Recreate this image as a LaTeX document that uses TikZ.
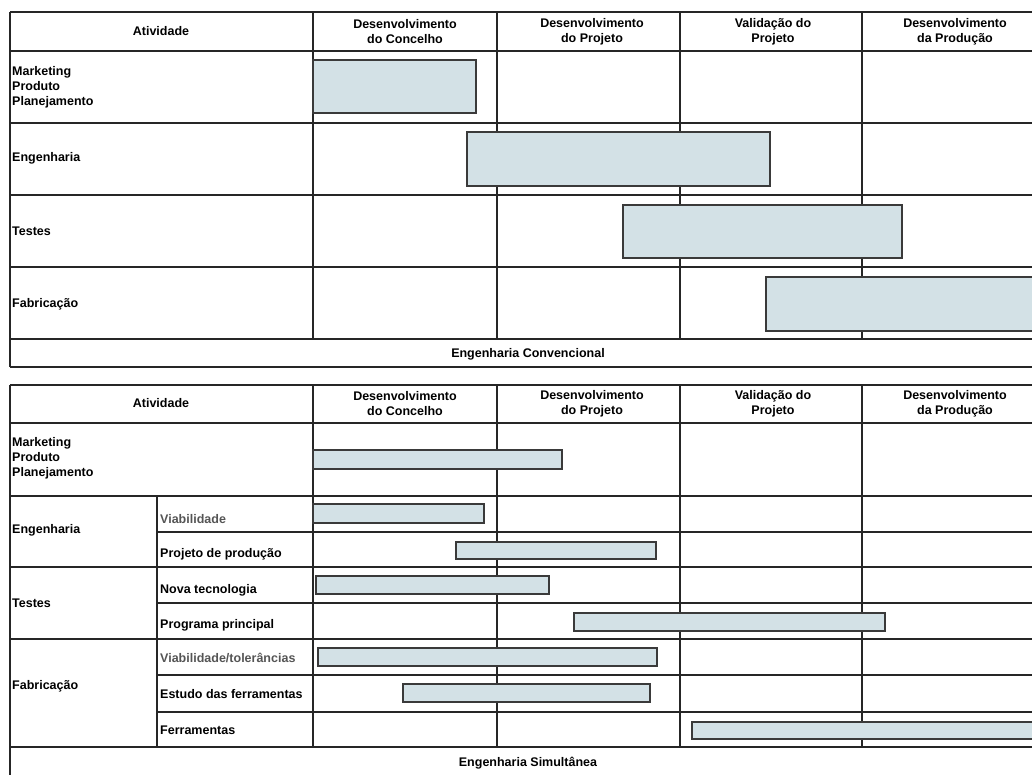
\documentclass[tikz,border=0pt]{standalone}
\usepackage{fontspec}
\setmainfont{Liberation Sans}
\definecolor{barfill}{HTML}{D3E1E6}
\definecolor{bardraw}{HTML}{3A3A3A}
\definecolor{lbgray}{HTML}{555555}
\begin{document}
\begin{tikzpicture}[x=1pt,y=-1pt,
  grid/.style={line width=1.4pt, black!85},
  bar/.style={fill=barfill, draw=bardraw, line width=1.5pt},
  lbl/.style={font=\bfseries\fontsize{12.5}{15}\selectfont, inner sep=0pt, anchor=west, align=left},
  hdr/.style={font=\bfseries\fontsize{12.5}{15}\selectfont, inner sep=0pt, align=center}]
\useasboundingbox (0,0) rectangle (1032,774);
\clip (0,0) rectangle (1032,774);
\fill[white] (0,0) rectangle (1032,774);

% ---------- top table grid ----------
\foreach \y in {12,51,123,195,267,339,367} \draw[grid] (10,\y) -- (1040,\y);
\draw[grid] (10,12) -- (10,367);
\foreach \x in {313,497,680,862} \draw[grid] (\x,12) -- (\x,339);

% top bars
\draw[bar] (313,60) rectangle (476,113);
\draw[bar] (467,132) rectangle (770,186);
\draw[bar] (623,205) rectangle (902,258);
\draw[bar] (766,277) rectangle (1045,331);

% top headers
\node[hdr] (ta) at (161,31) {Atividade};
\node[hdr] (tc1) at (405,32) {Desenvolvimento\\do Concelho};
\node[hdr] (tc2) at (592,32) {Desenvolvimento\\do Projeto};
\node[hdr] (tc3) at (773,32) {Validação do\\Projeto};
\node[hdr] (tc4) at (955,32) {Desenvolvimento\\da Produção};

% top row labels
\node[lbl] (tm) at (12,87) {Marketing\\Produto\\Planejamento};
\node[lbl] (te) at (12,158) {Engenharia};
\node[lbl] (tt) at (12,231) {Testes};
\node[lbl] (tf) at (12,304) {Fabricação};
\node[hdr] (tfoot) at (528,354) {Engenharia Convencional};

% ---------- bottom table grid ----------
\foreach \y in {385,423,496,567,639,747} \draw[grid] (10,\y) -- (1040,\y);
\foreach \y in {532,603,675,712} \draw[grid] (157,\y) -- (1040,\y);
\draw[grid] (10,385) -- (10,790);
\draw[grid] (157,496) -- (157,747);
\foreach \x in {313,497,680,862} \draw[grid] (\x,385) -- (\x,747);

% bottom bars
\draw[bar] (313,450) rectangle (562,469);
\draw[bar] (313,504) rectangle (484,523);
\draw[bar] (456,542) rectangle (656,559);
\draw[bar] (316,576) rectangle (549,594);
\draw[bar] (574,613) rectangle (885,631);
\draw[bar] (318,648) rectangle (657,666);
\draw[bar] (403,684) rectangle (650,702);
\draw[bar] (692,722) rectangle (1045,739);

% bottom headers
\node[hdr] (ba) at (161,403) {Atividade};
\node[hdr] (bc1) at (405,404) {Desenvolvimento\\do Concelho};
\node[hdr] (bc2) at (592,404) {Desenvolvimento\\do Projeto};
\node[hdr] (bc3) at (773,404) {Validação do\\Projeto};
\node[hdr] (bc4) at (955,404) {Desenvolvimento\\da Produção};

% bottom row labels
\node[lbl] (bm) at (12,458) {Marketing\\Produto\\Planejamento};
\node[lbl] (be) at (12,530) {Engenharia};
\node[lbl] (bt) at (12,603) {Testes};
\node[lbl] (bf) at (12,686) {Fabricação};
\node[lbl, text=lbgray] (s1) at (160,519) {Viabilidade};
\node[lbl] (s2) at (160,554) {Projeto de produção};
\node[lbl] (s3) at (160,590) {Nova tecnologia};
\node[lbl] (s4) at (160,625) {Programa principal};
\node[lbl, text=lbgray] (s5) at (160,658) {Viabilidade/tolerâncias};
\node[lbl] (s6) at (160,694) {Estudo das ferramentas};
\node[lbl] (s7) at (160,730) {Ferramentas};
\node[hdr] (bfoot) at (528,763) {Engenharia Simultânea};
\end{tikzpicture}
\end{document}
